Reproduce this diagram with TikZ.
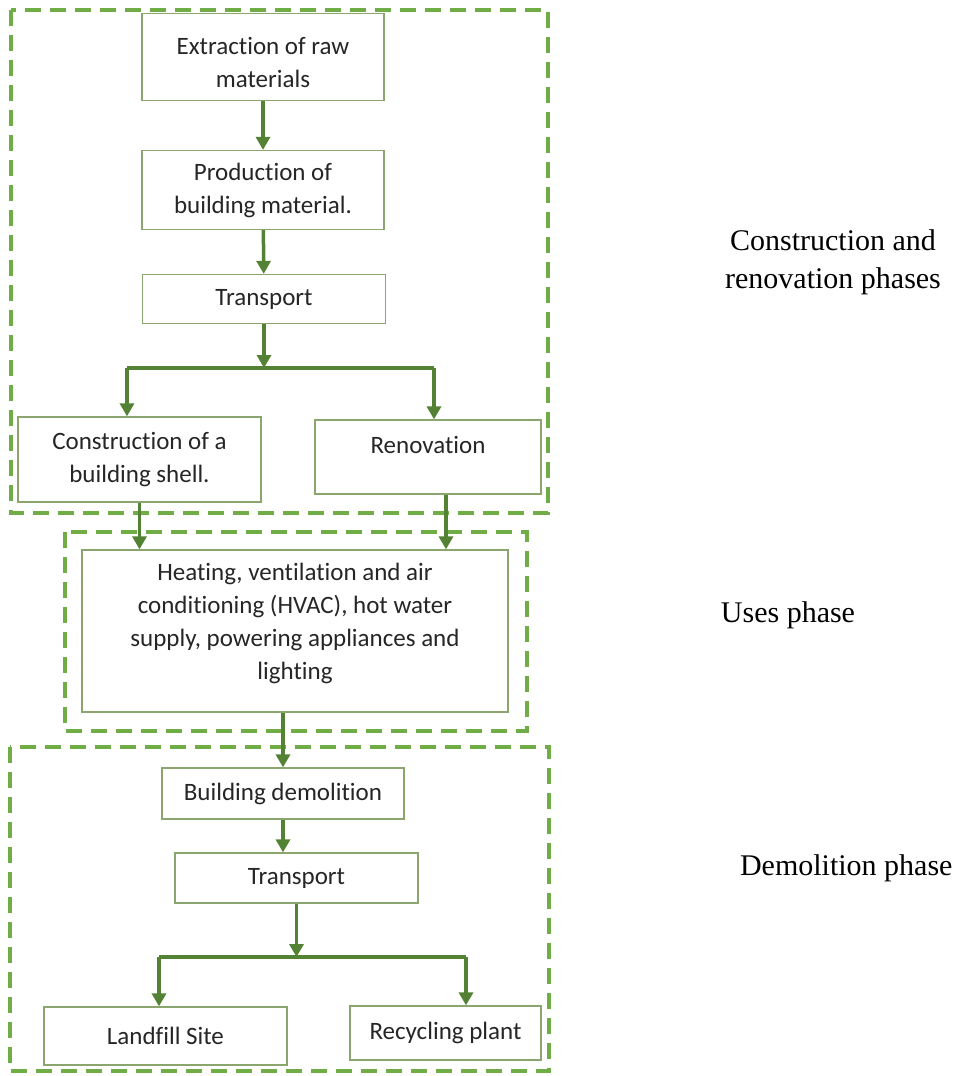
\documentclass[tikz,border=0pt]{standalone}
\usepackage{fontspec}
\setmainfont{Liberation Serif}
\newfontfamily\boxfont[Ligatures=NoCommon]{Carlito}
\usetikzlibrary{arrows.meta}
\definecolor{dashgreen}{HTML}{70AD47}
\definecolor{arrowgreen}{HTML}{548235}
\definecolor{boxgreen}{HTML}{8AA66E}

\begin{document}
\begin{tikzpicture}[x=1bp,y=-1bp,>={Triangle[width=14bp,length=13bp]},
  stage/.style={draw=boxgreen,line width=1.3bp,fill=white,align=center,inner sep=0pt,
    font=\boxfont\fontsize{25bp}{33bp}\selectfont,text=black!85},
  phase/.style={draw=dashgreen,line width=4bp,dash pattern=on 16bp off 9bp},
  flow/.style={->,arrowgreen,line width=3.5bp},
  bar/.style={arrowgreen,line width=3.5bp},
  phaselbl/.style={font=\fontsize{30bp}{38bp}\selectfont,align=center}]
  \useasboundingbox (0,0) rectangle (957,1076);
  % construction and renovation
  \draw[phase] (11,10) rectangle (548,513);
  \node[stage,minimum width=242bp,minimum height=87bp,text height=61bp] (extr) at (263,57) {Extraction of raw\\materials};
  \node[stage,minimum width=242bp,minimum height=79bp] (prod) at (263,190) {Production of\\building material.};
  \node[stage,minimum width=243bp,minimum height=49bp] (trans) at (264,299) {Transport};
  \node[stage,minimum width=243bp,minimum height=85bp] (shell) at (139.5,459.5) {Construction of a\\building shell.};
  \node[stage,minimum width=226bp,minimum height=74bp,text depth=24bp] (renov) at (428,457) {Renovation};
  % uses
  \draw[phase] (65,532) rectangle (527,731);
  \node[stage,minimum width=426bp,minimum height=162bp,text depth=20bp] (hvac) at (295,631)
    {Heating, ventilation and air\\conditioning (HVAC), hot water\\supply, powering appliances and\\lighting};
  % demolition
  \draw[phase] (10,747) rectangle (549,1071);
  \node[stage,minimum width=242bp,minimum height=51bp] (demol) at (283,793.5) {Building demolition};
  \node[stage,minimum width=243bp,minimum height=50bp] (trans2) at (296.5,878) {Transport};
  \node[stage,minimum width=243bp,minimum height=58bp] (landfill) at (165.5,1036) {Landfill Site};
  \node[stage,minimum width=191bp,minimum height=54bp] (recyc) at (445.5,1033) {Recycling plant};
  % phase names
  \node[phaselbl] (lblbuild) at (833,262) {Construction and\\renovation phases};
  \node[phaselbl] (lbluse) at (788,615) {Uses phase};
  \node[phaselbl,anchor=east] (lbldemol) at (956,868) {Demolition phase};
  % arrows, first phase
  \coordinate (forkL) at (127,368);
  \coordinate (forkR) at (434,368);
  \draw[flow] (extr) -- (prod);
  \draw[flow] (prod) -- (trans);
  \draw[flow] (trans.south) -- (trans.south |- forkL);
  \draw[bar] (forkL) -- (forkR);
  \draw[flow] (forkL) -- (forkL |- shell.north);
  \draw[flow] (forkR) -- (forkR |- renov.north);
  % into the uses phase
  \draw[flow] (shell.south) -- (shell.south |- hvac.north);
  \draw[flow] ([xshift=18bp]renov.south) -- ([xshift=18bp]renov.south |- hvac.north);
  \draw[flow] (demol.north |- hvac.south) -- (demol.north);
  % demolition branch
  \coordinate (fork2L) at (159,957);
  \coordinate (fork2R) at (466,957);
  \draw[flow] (demol.south) -- (demol.south |- trans2.north);
  \draw[flow] (trans2.south) -- (trans2.south |- fork2L);
  \draw[bar] (fork2L) -- (fork2R);
  \draw[flow] (fork2L) -- (fork2L |- landfill.north);
  \draw[flow] (fork2R) -- (fork2R |- recyc.north);
\end{tikzpicture}
\end{document}
